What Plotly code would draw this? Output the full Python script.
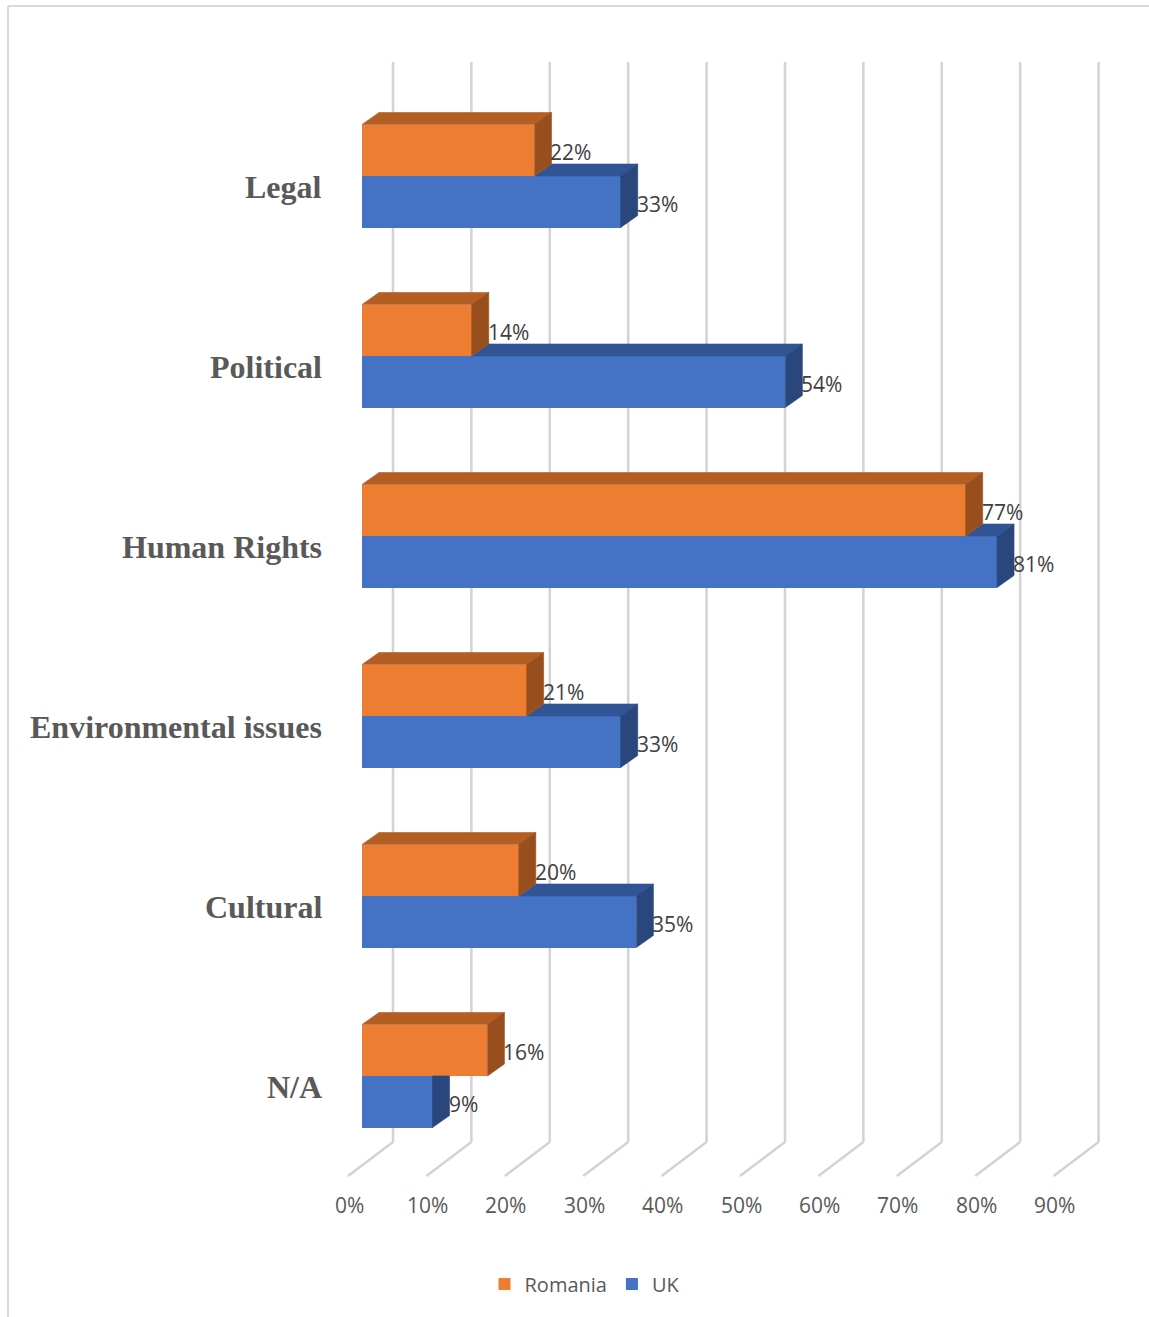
import plotly.graph_objects as go

# ---- data -------------------------------------------------------------
categories = ["Legal", "Political", "Human Rights", "Environmental issues", "Cultural", "N/A"]
romania = [22, 14, 77, 21, 20, 16]
uk = [33, 54, 81, 33, 35, 9]
tick_values = [0, 10, 20, 30, 40, 50, 60, 70, 80, 90]
tick_labels = [f"{v}%" for v in tick_values]
series_names = ["Romania", "UK"]

# ---- geometry (pixel based layout of the pseudo-3D chart) --------------
W, H = 1149, 1317
PX_PER_UNIT = 7.84          # horizontal pixels per percentage point
X_ZERO_PX = 362             # where the bar fronts start
ROW0_PX = 176               # centre of the first category row
ROW_STEP_PX = 180           # distance between category rows


def ux(px):
    """horizontal pixel distance -> axis units"""
    return px / PX_PER_UNIT


def uy(px):
    """vertical pixel distance -> axis units (row index)"""
    return px / ROW_STEP_PX


BAR_H = uy(51.5)            # thickness of each bar face
DDX, DDY = ux(17), uy(-12)  # depth extrusion of the bars
BACK_DX = ux(31)            # back wall offset from the bar zero
GRID_TOP = uy(62 - ROW0_PX)
FLOOR_BACK = uy(1142 - ROW0_PX)
FLOOR_DX, FLOOR_DY = ux(-45), uy(34)

ORANGE = dict(front="#ED7D31", top="#B45E24", side="#984F1D")
BLUE = dict(front="#4472C4", top="#315594", side="#29477D")

rows = list(range(len(categories)))
y_or = [r - BAR_H / 2 for r in rows]
y_uk = [r + BAR_H / 2 for r in rows]

fig = go.Figure()

# front faces of the bars
fig.add_trace(go.Bar(
    y=y_or, x=romania, orientation="h", width=BAR_H, name=series_names[0],
    marker=dict(color=ORANGE["front"], line=dict(width=0)), hoverinfo="skip"))
fig.add_trace(go.Bar(
    y=y_uk, x=uk, orientation="h", width=BAR_H, name=series_names[1],
    marker=dict(color=BLUE["front"], line=dict(width=0)), hoverinfo="skip"))


def face(xs, ys, color):
    fig.add_trace(go.Scatter(
        x=xs + [xs[0]], y=ys + [ys[0]], mode="lines", fill="toself",
        fillcolor=color, line=dict(color=color, width=0.6),
        hoverinfo="skip", showlegend=False))


for r, vo, vu in zip(rows, romania, uk):
    o_top, o_bot = r - BAR_H, r
    u_top, u_bot = r, r + BAR_H
    # UK top face: only the part not hidden behind the Romania bar
    if vu > vo:
        face([vo, vu, vu + DDX, vo + DDX], [u_top, u_top, u_top + DDY, u_top + DDY], BLUE["top"])
    # UK side face
    if vo >= vu + DDX:
        face([vu, vu, vu + DDX, vu + DDX], [u_top, u_bot, u_bot + DDY, u_top], BLUE["side"])
    else:
        face([vu, vu, vu + DDX, vu + DDX], [u_top, u_bot, u_bot + DDY, u_top + DDY], BLUE["side"])
    # Romania top and side faces
    face([0, vo, vo + DDX, DDX], [o_top, o_top, o_top + DDY, o_top + DDY], ORANGE["top"])
    face([vo, vo, vo + DDX, vo + DDX], [o_top, o_bot, o_bot + DDY, o_top + DDY], ORANGE["side"])

# back wall gridlines and floor edges
shapes = []
grid_style = dict(color="#D3D3D3", width=2.5)
for v in tick_values:
    xb = v + BACK_DX
    shapes.append(dict(type="line", xref="x", yref="y", x0=xb, x1=xb,
                       y0=GRID_TOP, y1=FLOOR_BACK, line=grid_style, layer="below"))
    shapes.append(dict(type="line", xref="x", yref="y", x0=xb, x1=xb + FLOOR_DX,
                       y0=FLOOR_BACK, y1=FLOOR_BACK + FLOOR_DY, line=grid_style, layer="below"))

# chart frame
frame = dict(color="#D9D9D9", width=2)
shapes.append(dict(type="line", xref="paper", yref="paper", x0=8 / W, x1=1,
                   y0=1 - 6 / H, y1=1 - 6 / H, line=frame))
shapes.append(dict(type="line", xref="paper", yref="paper", x0=8 / W, x1=8 / W,
                   y0=0, y1=1 - 6 / H, line=frame))

annotations = []
# value axis labels
for v, t in zip(tick_values, tick_labels):
    annotations.append(dict(x=v + ux(-13), y=uy(1205 - ROW0_PX), xref="x", yref="y",
                            text=t, showarrow=False, xanchor="center", yanchor="middle",
                            font=dict(family="Open Sans", size=21, color="#595959")))
# category labels
for r, c in zip(rows, categories):
    annotations.append(dict(x=ux(-38), y=r + uy(11), xref="x", yref="y", text=f"<b>{c}</b>",
                            showarrow=False, xanchor="right", yanchor="middle",
                            font=dict(family="Liberation Serif", size=32, color="#595959")))
# data labels
label_font = dict(family="Open Sans", size=21, color="#404040")
for r, vo, vu in zip(rows, romania, uk):
    annotations.append(dict(x=vo + DDX - ux(3), y=r - BAR_H / 2 + uy(2), xref="x", yref="y",
                            text=f"{vo}%", showarrow=False, xanchor="left", yanchor="middle",
                            font=label_font))
    annotations.append(dict(x=vu + DDX - ux(3), y=r + BAR_H / 2 + uy(2), xref="x", yref="y",
                            text=f"{vu}%", showarrow=False, xanchor="left", yanchor="middle",
                            font=label_font))

fig.update_layout(
    width=W, height=H, autosize=False,
    margin=dict(l=0, r=0, t=0, b=0),
    paper_bgcolor="white", plot_bgcolor="white",
    barmode="overlay", bargap=0,
    xaxis=dict(range=[-X_ZERO_PX / PX_PER_UNIT, (W - X_ZERO_PX) / PX_PER_UNIT],
               visible=False, fixedrange=True),
    yaxis=dict(range=[(H - ROW0_PX) / ROW_STEP_PX, -ROW0_PX / ROW_STEP_PX],
               visible=False, fixedrange=True),
    shapes=shapes, annotations=annotations,
    showlegend=True,
    legend=dict(orientation="h", x=585 / W, xanchor="center", y=1 - 1284 / H, yanchor="middle",
                font=dict(family="Open Sans", size=20, color="#595959"),
                itemwidth=30, bgcolor="rgba(0,0,0,0)", traceorder="normal"),
)

fig.write_html("out.html")
